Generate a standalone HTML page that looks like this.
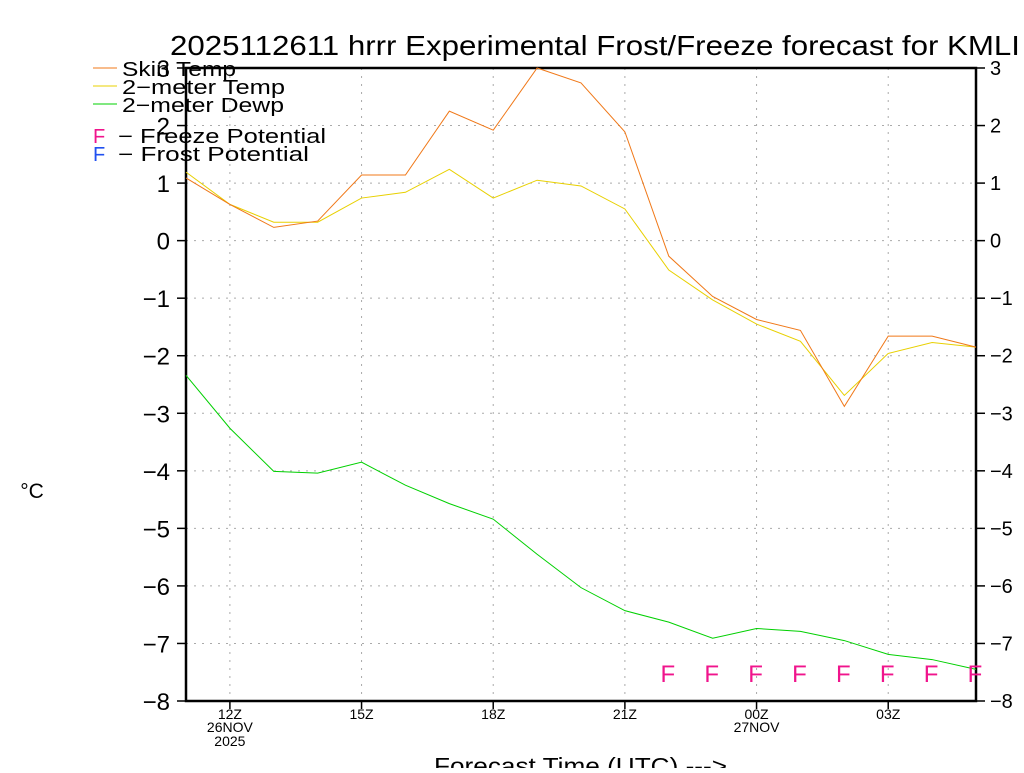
<!DOCTYPE html>
<html><head><meta charset="utf-8"><style>
body{margin:0;background:#fff;width:1024px;height:768px;overflow:hidden}
svg text{font-family:"Liberation Sans",sans-serif;fill:#000}
</style></head><body>
<svg id="chart" width="1024" height="768" xmlns="http://www.w3.org/2000/svg"></svg>
<script>
const hours = ["11Z","12Z","13Z","14Z","15Z","16Z","17Z","18Z","19Z","20Z","21Z","22Z","23Z","00Z","01Z","02Z","03Z","04Z","05Z"];
const skinTemp = [1.09,0.63,0.23,0.34,1.14,1.14,2.25,1.92,3.0,2.74,1.89,-0.27,-0.97,-1.37,-1.56,-2.88,-1.66,-1.66,-1.85];
const temp2m = [1.19,0.63,0.32,0.32,0.74,0.84,1.24,0.74,1.05,0.95,0.55,-0.51,-1.03,-1.45,-1.75,-2.69,-1.96,-1.77,-1.85];
const dewp2m = [-2.34,-3.26,-4.01,-4.04,-3.85,-4.25,-4.57,-4.84,-5.45,-6.03,-6.43,-6.63,-6.91,-6.74,-6.79,-6.95,-7.19,-7.28,-7.45];
const freezeFlags = [0,0,0,0,0,0,0,0,0,0,0,1,1,1,1,1,1,1,1];
const yTicks = [3,2,1,0,-1,-2,-3,-4,-5,-6,-7,-8];
const xTickIdx = [1,4,7,10,13,16];
const xTickLabels = ["12Z","15Z","18Z","21Z","00Z","03Z"];
const xTickSub = [["26NOV","2025"],[],[],[],["27NOV"],[]];

const svg=document.getElementById('chart');
const NS='http://www.w3.org/2000/svg';
const L=186,R=976,T=68,B=701;
const xs=i=>L+(R-L)*i/(hours.length-1);
const ys=v=>T+(3-v)*(B-T)/11;
function mk(tag,attrs,parent){const e=document.createElementNS(NS,tag);for(const k in attrs)e.setAttribute(k,attrs[k]);(parent||svg).appendChild(e);return e;}
function txt(x,y,s,size,anchor,fill,len){const a={x:x,y:y,'font-size':size,'text-anchor':anchor||'start'};if(len){a.textLength=len;a.lengthAdjust='spacingAndGlyphs';}const t=mk('text',a);if(fill)t.style.fill=fill;t.textContent=s;return t;}

const grid=mk('g',{});


yTicks.forEach(v=>{if(v<3&&v>-8)mk('line',{x1:L,x2:R,y1:ys(v),y2:ys(v),stroke:'#aaa','stroke-dasharray':'2,6'},grid);});
xTickIdx.forEach(i=>mk('line',{x1:xs(i),x2:xs(i),y1:T,y2:B,stroke:'#aaa','stroke-dasharray':'2,6'},grid));

const ax=mk('g',{});


mk('rect',{x:L,y:T,width:R-L,height:B-T,fill:'none',stroke:'#000','stroke-width':2.5},ax);
yTicks.forEach(v=>{
  mk('line',{x1:L-9,x2:L,y1:ys(v),y2:ys(v),stroke:'#000','stroke-width':1.5},ax);
  mk('line',{x1:R,x2:R+9,y1:ys(v),y2:ys(v),stroke:'#000','stroke-width':1.5},ax);
  const s=(v<0?'\u2212':'')+Math.abs(v);
  const a=txt(L-16,ys(v)+9,s,24,'end');
  
  
  const b=txt(R+14,ys(v)+7,s,20,'start');
  
  
});
xTickIdx.forEach((i,k)=>{
  mk('line',{x1:xs(i),x2:xs(i),y1:B,y2:B+8,stroke:'#000','stroke-width':1.5},ax);
  const t=txt(xs(i),B+18,xTickLabels[k],14,'middle');
  
  
  xTickSub[k].forEach((s,j)=>{const u=txt(xs(i),B+31+14*j,s,14,'middle');
    
    });
});

function series(vals,color,name){
  const p=mk('polyline',{points:vals.map((v,i)=>xs(i)+','+ys(v)).join(' '),fill:'none',stroke:color,'stroke-width':1});
  
  
}
series(dewp2m,'#00d000','dewpoint-line');
series(temp2m,'#e8d000','temp-2m-line');
series(skinTemp,'#f07818','skin-temp-line');

freezeFlags.forEach((f,i)=>{if(f){const t=txt(xs(i)-1,ys(-7.5)+10,'F',24,'middle','#f0148c');
  
  }});

const title=txt(170,55,'2025112611 hrrr Experimental Frost/Freeze forecast for KMLI',28,'start',null,850);


const yl=txt(32,498,'\u00B0C',21,'middle');


const xl=txt(434,774,'Forecast Time (UTC) --->',23,'start',null,293);



const leg=[['#f07818','Skin Temp',74,114],['#e8d000','2\u2212meter Temp',92,163],['#00d000','2\u2212meter Dewp',110,162]];
leg.forEach(l=>{
  const g=mk('g',{});
  
  
  mk('line',{x1:93,x2:117,y1:l[2]-6,y2:l[2]-6,stroke:l[0]},g);
  const t=mk('text',{x:122,y:l[2]+2,'font-size':20,textLength:l[3],lengthAdjust:'spacingAndGlyphs'},g);t.textContent=l[1];
});
[['#f0148c','\u2212  Freeze Potential',143,208],['#2050f0','\u2212  Frost Potential',161,191]].forEach(l=>{
  const g=mk('g',{});
  
  
  const f=mk('text',{x:93,y:l[2],'font-size':20},g);f.style.fill=l[0];f.textContent='F';
  const t=mk('text',{x:118,y:l[2],'font-size':20,textLength:l[3],lengthAdjust:'spacingAndGlyphs'},g);t.textContent=l[1];t.setAttribute('xml:space','preserve');
});
</script>
</body></html>
